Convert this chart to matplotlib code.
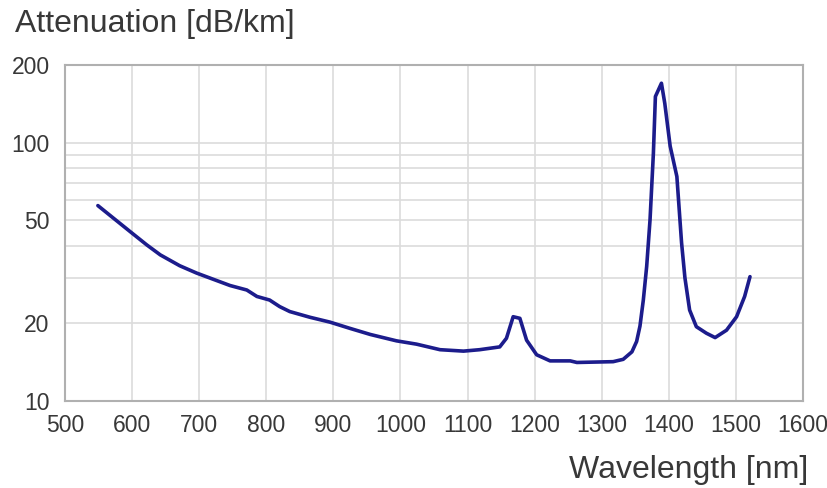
import matplotlib
matplotlib.use("Agg")
import matplotlib.pyplot as plt
from matplotlib.ticker import FixedLocator, NullFormatter

plt.rcParams['font.family'] = ['Liberation Sans', 'DejaVu Sans']

wavelength = [549, 572, 597, 622, 642, 671, 696, 721, 746, 771, 786, 805, 820,
              835, 865, 895, 925, 955, 994, 1024, 1059, 1094, 1118, 1148, 1158,
              1168, 1178, 1188, 1203, 1223, 1253, 1263, 1317, 1332, 1345, 1352,
              1357, 1362, 1367, 1372, 1377, 1380, 1389, 1394, 1402, 1412, 1419,
              1424, 1431, 1441, 1456, 1469, 1486, 1501, 1513, 1521]
attenuation = [57.1, 51.1, 45.3, 40.2, 36.8, 33.4, 31.3, 29.6, 28.0, 26.9, 25.4,
               24.6, 23.2, 22.2, 21.1, 20.2, 19.1, 18.1, 17.1, 16.6, 15.8, 15.6,
               15.8, 16.2, 17.5, 21.2, 20.9, 17.2, 15.1, 14.3, 14.3, 14.1, 14.2,
               14.5, 15.5, 17.0, 19.5, 24.6, 33.2, 50.3, 91.0, 151.0, 170.0, 142.0,
               97.0, 74.0, 41.0, 30.0, 22.5, 19.4, 18.3, 17.6, 18.8, 21.2, 25.4, 30.3]

x_ticks = [500, 600, 700, 800, 900, 1000, 1100, 1200, 1300, 1400, 1500, 1600]
y_ticks = [10, 20, 50, 100, 200]
y_grid = [20, 30, 40, 50, 60, 70, 80, 90, 100]

fig = plt.figure(figsize=(8.27, 4.88), dpi=100)
ax = fig.add_axes([65/827, 1-401/488, (803-65)/827, (401-65)/488])

ax.plot(wavelength, attenuation, color='#1c1c8c', lw=2.6,
        solid_joinstyle='round', solid_capstyle='round', zorder=3)

ax.set_yscale('log')
ax.set_xlim(500, 1600)
ax.set_ylim(10, 200)
ax.set_xticks(x_ticks)
ax.set_xticklabels([str(v) for v in x_ticks])
ax.yaxis.set_major_locator(FixedLocator(y_ticks))
ax.set_yticklabels([str(v) for v in y_ticks])
ax.yaxis.set_minor_locator(FixedLocator(y_grid))
ax.yaxis.set_minor_formatter(NullFormatter())

ax.grid(False)
for v in x_ticks[1:-1]:
    ax.axvline(v, color='#dcdcdc', lw=1.2, zorder=1)
for v in y_grid:
    ax.axhline(v, color='#dcdcdc', lw=1.2, zorder=1)

for s in ax.spines.values():
    s.set_color('#b0b0b0')
    s.set_linewidth(1.5)

ax.tick_params(which='both', length=0, labelsize=16.5, labelcolor='#383838')
ax.tick_params(axis='y', pad=11)
ax.tick_params(axis='x', pad=9)

fig.text(15/827, 1-24/488, 'Attenuation [dB/km]', fontsize=23, color='#383838',
         ha='left', va='center')
fig.text(808/827, 1-470/488, 'Wavelength [nm]', fontsize=23, color='#383838',
         ha='right', va='center')

fig.savefig('out.png', dpi=100)
